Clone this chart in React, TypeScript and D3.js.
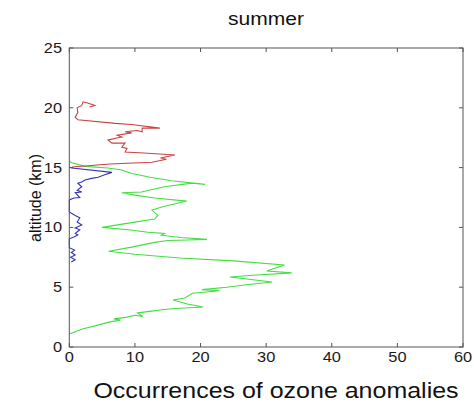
import React from "react";
import * as d3 from "d3";

// ---- data (occurrences vs altitude, in path order) ----
const greenValues = [0, 2, 4.5, 6.2, 7.8, 6.8, 8.8, 10, 11.2, 10.4, 12.5, 13.8, 16.1, 20.4, 18, 15.8, 17.6, 18.8, 22.9, 20.2, 24.0, 27, 29.5, 30.9, 24.5, 28, 33.9, 30.1, 32.8, 25, 16.8, 10, 6.0, 9.5, 13, 15, 18, 21, 17, 14, 14.5, 12, 9, 5, 9.5, 13, 13.5, 12.6, 14.1, 17.1, 17.9, 13, 10, 8, 11, 14.5, 18.7, 20.7, 15.6, 12.3, 10.5, 9.5, 8, 5.9, 2.4, 0.4, 0];
const greenAltitudes = [1.09, 1.5, 1.85, 2.1, 2.25, 2.35, 2.5, 2.65, 2.55, 2.85, 3.0, 3.1, 3.22, 3.34, 3.6, 3.93, 4.1, 4.5, 4.7, 4.8, 5.0, 5.2, 5.35, 5.43, 5.85, 6.0, 6.2, 6.35, 6.86, 7.2, 7.44, 7.75, 8.0, 8.35, 8.75, 8.9, 8.95, 9.0, 9.15, 9.35, 9.5, 9.6, 9.8, 10.0, 10.4, 10.7, 11.0, 11.45, 11.7, 12.1, 12.2, 12.46, 12.7, 12.9, 12.96, 13.4, 13.7, 13.6, 13.9, 14.2, 14.4, 14.5, 14.8, 14.97, 15.1, 15.4, 15.5];

const blueValues = [0.3, 0.9, 0.2, 0.9, 0.3, 0.8, 0, 0, 0.7, 1.3, 0.9, 1.6, 0.9, 1.9, 1.2, 1.6, 0.9, 0, 0, 0.7, 1.6, 0.9, 1.9, 1.2, 1.9, 1.3, 1.9, 2.4, 3.4, 4.4, 5.4, 6.5, 0.4, 0];
const blueAltitudes = [7.1, 7.3, 7.5, 7.7, 7.9, 8.1, 8.3, 9.05, 9.2, 9.36, 9.5, 9.8, 9.95, 10.2, 10.45, 10.8, 11.0, 11.3, 12.3, 12.46, 12.5, 12.9, 12.96, 13.1, 13.4, 13.7, 13.8, 13.96, 14.1, 14.2, 14.4, 14.6, 14.97, 15.05];

const redValues = [0.4, 6.2, 12.6, 14.8, 13.9, 16.1, 12.0, 8.5, 8.8, 8.0, 8.5, 6.5, 5.9, 7.4, 8.0, 7.3, 9.5, 8.5, 10.3, 11.1, 11.1, 13.8, 9.5, 7.0, 1.3, 0.9, 1.3, 1.2, 1.9, 2.1, 2.8, 3.9, 3.1];
const redAltitudes = [15.05, 15.3, 15.45, 15.7, 15.8, 16.05, 16.2, 16.3, 16.6, 16.7, 17.05, 17.05, 17.3, 17.5, 17.55, 17.7, 17.9, 18.0, 18.1, 18.0, 18.3, 18.3, 18.6, 18.7, 19.0, 19.2, 19.6, 20.0, 20.2, 20.5, 20.4, 20.2, 20.07];

const xTicks = [0, 10, 20, 30, 40, 50, 60];
const yTicks = [0, 5, 10, 15, 20, 25];

const titleText = "summer";
const xLabel = "Occurrences of ozone anomalies";
const yLabel = "altitude (km)";

export default function App() {
  const W = 474, H = 407;
  const left = 69.3, right = 463, top = 48, bottom = 347;
  const x = d3.scaleLinear().domain([0, 60]).range([left, right]);
  const y = d3.scaleLinear().domain([0, 25]).range([bottom, top]);
  const mk = (vals: number[], alts: number[]) =>
    d3.line<number>().x((_, i) => x(vals[i])).y((_, i) => y(alts[i]))(vals.map((_, i) => i)) || "";
  const axisColor = "#555";
  const tickLen = 4;
  const font = "Liberation Sans, Arial, Helvetica, sans-serif";
  const sx = 1.17;
  return (
    <svg width={W} height={H} style={{ position: "absolute", left: 0, top: 0, background: "#fff" }} fontFamily={font}>
      <rect x={0} y={0} width={W} height={H} fill="#fff" />
      <path d={mk(greenValues, greenAltitudes)} fill="none" stroke="#44dd44" strokeWidth={1.1} />
      <path d={mk(blueValues, blueAltitudes)} fill="none" stroke="#3434b4" strokeWidth={1.1} />
      <path d={mk(redValues, redAltitudes)} fill="none" stroke="#c84444" strokeWidth={1.1} />
      <rect x={left} y={top} width={right - left} height={bottom - top} fill="none" stroke={axisColor} strokeWidth={1} />
      {xTicks.map((t) => (
        <g key={"x" + t}>
          <line x1={x(t)} x2={x(t)} y1={bottom} y2={bottom - tickLen} stroke={axisColor} />
          <line x1={x(t)} x2={x(t)} y1={top} y2={top + tickLen} stroke={axisColor} />
          <text transform={`translate(${x(t)},362) scale(${sx},1)`} textAnchor="middle" fontSize={14} fill="#1a1a1a">{t}</text>
        </g>
      ))}
      {yTicks.map((t) => (
        <g key={"y" + t}>
          <line x1={left} x2={left + tickLen} y1={y(t)} y2={y(t)} stroke={axisColor} />
          <line x1={right} x2={right - tickLen} y1={y(t)} y2={y(t)} stroke={axisColor} />
          <text transform={`translate(62,${y(t) + 5}) scale(${sx},1)`} textAnchor="end" fontSize={14} fill="#1a1a1a">{t}</text>
        </g>
      ))}
      <text transform={`translate(266,25) scale(${sx},1)`} textAnchor="middle" fontSize={18} fill="#111">{titleText}</text>
      <text transform={`translate(276,398) scale(1.136,1)`} textAnchor="middle" fontSize={22} fill="#111">{xLabel}</text>
      <text transform={`translate(41,198) scale(1.05,1) rotate(-90)`} textAnchor="middle" fontSize={16} fill="#111">{yLabel}</text>
    </svg>
  );
}
